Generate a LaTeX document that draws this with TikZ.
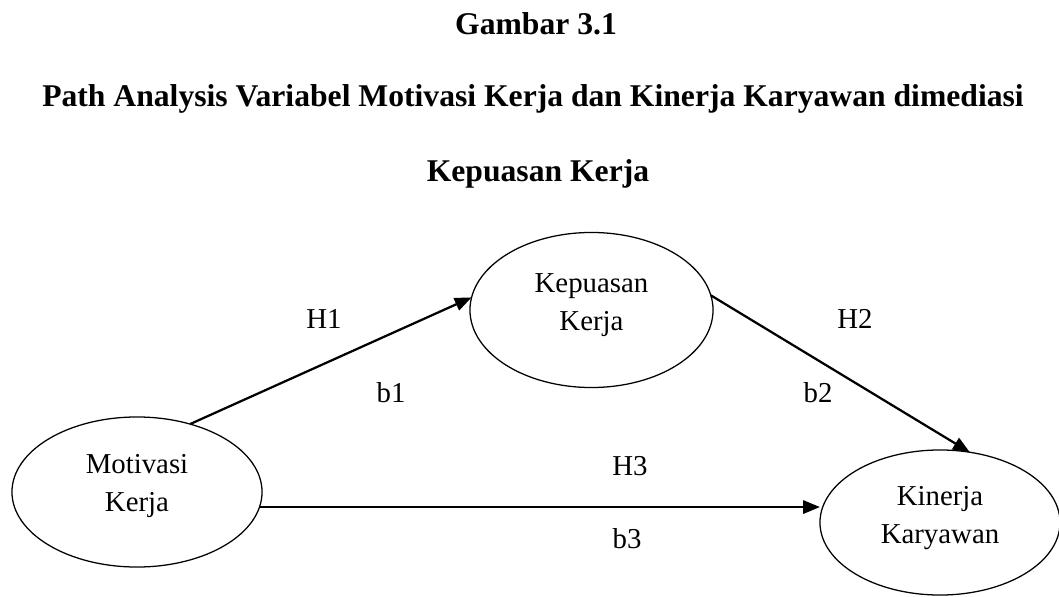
\documentclass[tikz,border=0pt]{standalone}
\usepackage{fontspec}
\setmainfont{Liberation Serif}
\usetikzlibrary{arrows.meta, shapes.geometric}

\begin{document}
\begin{tikzpicture}[x=0.025cm, y=-0.025cm, >={Triangle[length=0.42cm, width=0.33cm]},
  var/.style={draw, ellipse, line width=0.9pt, inner sep=0pt, outer sep=0pt},
  vartext/.style={align=center, font=\fontsize{20.5}{27}\selectfont},
  lbl/.style={anchor=base, font=\fontsize{20.5}{24}\selectfont},
  ttl/.style={anchor=base, font=\fontsize{22.5}{27}\selectfont\bfseries},
  link/.style={->, line width=1.6pt}]
  \useasboundingbox (0,0) rectangle (1059,597);
  \node[ttl] (t1) at (536,35) {Gambar 3.1};
  \node[ttl] (t2) at (533,107) {Path Analysis Variabel Motivasi Kerja dan Kinerja Karyawan dimediasi};
  \node[ttl] (t3) at (538,182) {Kepuasan Kerja};
  \node[var, minimum width=6.25cm, minimum height=3.75cm] (mot) at (137,492) {};
  \node[var, minimum width=6.075cm, minimum height=3.875cm] (kep) at (591.5,310) {};
  \node[var, minimum width=6cm, minimum height=3.625cm] (kin) at (940,522.5) {};
  \node[vartext] (mot-t) at (137,486) {Motivasi\\Kerja};
  \node[vartext] (kep-t) at (591.5,305) {Kepuasan\\Kerja};
  \node[vartext] (kin-t) at (940,518) {Kinerja\\Karyawan};
  \draw[link] (mot.52) -- (kep.174);
  \draw[link] (kep.7) -- (kin.67);
  \draw[link] (mot.-7) -- (kin.west |- mot.-7);
  \node[lbl] (h1) at (324,328) {H1};
  \node[lbl] (b1) at (391,402) {b1};
  \node[lbl] (h2) at (855,328) {H2};
  \node[lbl] (b2) at (818,402) {b2};
  \node[lbl] (h3) at (630,475) {H3};
  \node[lbl] (b3) at (627,548) {b3};
\end{tikzpicture}
\end{document}
